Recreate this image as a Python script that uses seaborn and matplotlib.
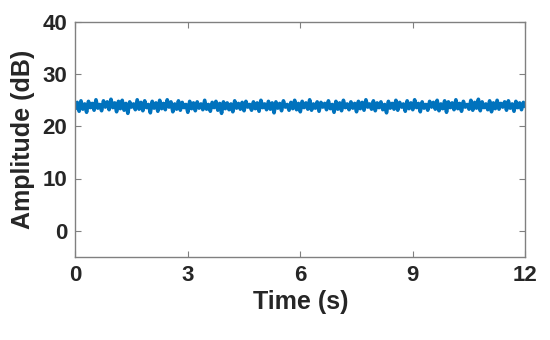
import numpy as np
import pandas as pd
import seaborn as sns
import matplotlib.pyplot as plt

amplitude = [
    23.4, 24.6, 22.9, 24.9, 23.3, 24.3, 22.7, 24.8, 23.6, 24.4, 23.1, 25.1, 23.5, 24.2, 23.0, 24.9, 23.7, 24.7, 23.2, 25.2,
    23.6, 24.5, 22.8, 24.8, 23.4, 25.0, 23.1, 24.4, 22.5, 24.7, 23.7, 24.3, 23.2, 25.1, 23.3, 24.6, 23.0, 24.9, 23.6, 24.2,
    22.6, 24.8, 23.5, 24.5, 22.9, 25.0, 23.4, 24.4, 23.2, 25.1, 23.7, 24.7, 22.8, 24.3, 23.3, 24.9, 23.1, 24.6, 23.6, 24.2,
    22.7, 24.8, 23.4, 24.5, 23.0, 24.7, 23.5, 24.3, 23.2, 25.0, 23.3, 24.2, 22.9, 24.6, 23.6, 24.8, 23.1, 24.4, 22.5, 24.7,
    23.4, 24.5, 23.2, 24.3, 22.8, 24.9, 23.5, 24.4, 23.3, 24.6, 23.0, 24.8, 23.7, 24.2, 23.1, 24.7, 23.4, 24.5, 22.9, 25.0,
    23.6, 24.3, 23.2, 24.8, 23.3, 24.5, 22.6, 24.7, 23.5, 24.4, 23.0, 24.9, 23.7, 24.2, 23.1, 24.6, 23.4, 25.0, 23.2, 24.4,
    22.8, 24.8, 23.6, 24.5, 23.3, 25.1, 23.1, 24.3, 23.5, 24.7, 22.9, 24.6, 23.7, 24.4, 23.2, 24.9, 23.4, 24.2, 22.7, 24.8,
    23.3, 24.5, 23.0, 25.0, 23.6, 24.3, 23.2, 24.7, 23.5, 24.4, 22.8, 24.8, 23.4, 24.6, 23.1, 25.1, 23.7, 24.3, 23.3, 24.9,
    23.0, 24.5, 23.6, 24.7, 23.2, 24.2, 22.6, 24.8, 23.5, 24.4, 23.3, 25.0, 23.1, 24.6, 23.7, 24.3, 22.9, 24.9, 23.4, 24.5,
    23.2, 25.1, 23.6, 24.4, 22.8, 24.7, 23.5, 24.2, 23.1, 24.8, 23.7, 24.6, 23.3, 25.0, 23.0, 24.3, 23.4, 24.9, 22.7, 24.7,
    23.6, 24.5, 23.2, 25.1, 23.4, 24.4, 22.9, 24.8, 23.7, 24.2, 23.3, 25.0, 23.1, 24.6, 23.5, 25.2, 23.0, 24.7, 23.6, 24.3,
    23.2, 24.9, 22.8, 24.5, 23.4, 25.0, 23.3, 24.4, 23.7, 24.7, 23.1, 24.9, 23.5, 24.3, 22.9, 24.8, 23.6, 24.5, 23.2, 24.6,
    23.8,
]
time_s = np.arange(len(amplitude)) * 0.05

x_ticks = [0, 3, 6, 9, 12]
y_ticks = [0, 10, 20, 30, 40]

df = pd.DataFrame({'Time': time_s, 'Amplitude': amplitude})

sns.set_theme(style="white")
plt.rcParams['font.family'] = ['Liberation Sans', 'DejaVu Sans']
plt.rcParams['font.weight'] = 'bold'

fig, ax = plt.subplots(figsize=(5.5, 3.4), dpi=100)
fig.subplots_adjust(left=0.137, right=0.955, top=0.935, bottom=0.245)

sns.lineplot(data=df, x='Time', y='Amplitude', color='#0072BD', linewidth=2.6, ax=ax)

ax.set_xlim(0, 12)
ax.set_ylim(-5, 40)
ax.set_xticks(x_ticks)
ax.set_yticks(y_ticks)
ax.set_xlabel('Time (s)', fontsize=18, fontweight='bold', color='#262626', labelpad=3)
ax.set_ylabel('Amplitude (dB)', fontsize=18, fontweight='bold', color='#262626', labelpad=5)

for s in ax.spines.values():
    s.set_color('#808080')
    s.set_linewidth(1.0)
ax.tick_params(direction='in', length=4, width=0.8, color='#808080',
               labelsize=16, labelcolor='#262626', top=True, right=True,
               bottom=True, left=True, pad=6)
for lbl in ax.get_xticklabels() + ax.get_yticklabels():
    lbl.set_fontweight('bold')

fig.savefig('out.png', dpi=100)
